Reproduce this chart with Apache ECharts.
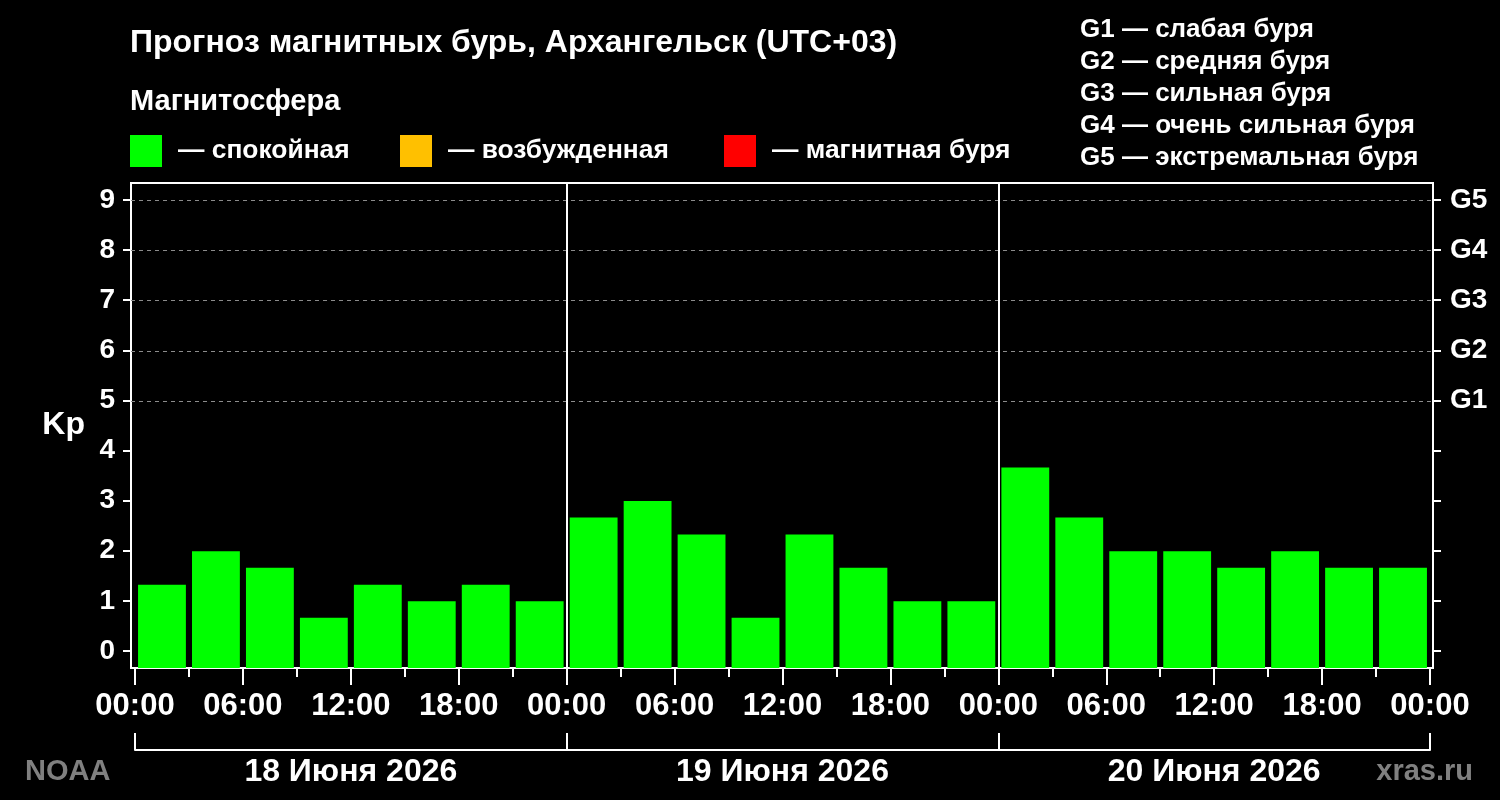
<!DOCTYPE html>
<html lang="ru">

<head>
    <meta charset="UTF-8">
    <title>Прогноз магнитных бурь</title>
    <script src="https://cdn.jsdelivr.net/npm/echarts@6/dist/echarts.min.js"></script>
    <style>
        html, body { margin: 0; padding: 0; background: #000; }
    </style>
</head>

<body>
    <div id="main" style="width: 1500px;height:800px;"></div>
    <script type="text/javascript">
        // часы от начала 18 июня (шаг 3 ч) и прогноз Kp
        var hours = [0, 3, 6, 9, 12, 15, 18, 21, 24, 27, 30, 33, 36, 39, 42, 45, 48, 51, 54, 57, 60, 63, 66, 69];
        var kp = [1.33, 2, 1.67, 0.67, 1.33, 1, 1.33, 1,
            2.67, 3, 2.33, 0.67, 2.33, 1.67, 1, 1,
            3.67, 2.67, 2, 2, 1.67, 2, 1.67, 1.67];
        var days = ['18 Июня 2026', '19 Июня 2026', '20 Июня 2026'];
        var dayStarts = [0, 24, 48, 72];
        var dayCenters = [12, 36, 60];
        var gLevels = ['G1', 'G2', 'G3', 'G4', 'G5'];
        var gText = ['G1 — слабая буря', 'G2 — средняя буря', 'G3 — сильная буря',
            'G4 — очень сильная буря', 'G5 — экстремальная буря'];
        var levels = ['спокойная', 'возбужденная', 'магнитная буря'];
        var levelColors = ['#00ff00', '#ffc000', '#ff0000'];

        var KP_MIN = -1 / 3;
        var FONT = "'Liberation Sans', Arial, sans-serif";

        function levelOf(v) {
            if (v >= 5) return 2;
            if (v >= 4) return 1;
            return 0;
        }

        function renderBar(params, api) {
            var t = api.value(0), v = api.value(1);
            var p0 = api.coord([t + 0.17, v]);
            var p1 = api.coord([t + 2.83, KP_MIN]);
            return {
                type: 'rect',
                shape: { x: p0[0], y: p0[1], width: p1[0] - p0[0], height: p1[1] - p0[1] },
                style: api.style()
            };
        }

        function pad(n) { return (n < 10 ? '0' : '') + n; }

        function txt(size, color) {
            return { color: color || '#fff', fontFamily: FONT, fontWeight: 'bold', fontSize: size };
        }

        var chart = echarts.init(document.getElementById('main'));

        var series = levels.map(function (name, i) {
            var data = [];
            hours.forEach(function (h, j) {
                if (levelOf(kp[j]) === i) data.push([h, kp[j]]);
            });
            return {
                name: name,
                type: 'custom',
                xAxisIndex: 0,
                yAxisIndex: 0,
                renderItem: renderBar,
                itemStyle: { color: levelColors[i] },
                encode: { x: 0, y: 1 },
                data: data
            };
        });

        // пунктир на уровнях G1..G5 и разделители суток
        series[0].markLine = {
            silent: true,
            symbol: 'none',
            label: { show: false },
            animation: false,
            data: [5, 6, 7, 8, 9].map(function (v) {
                return { yAxis: v, lineStyle: { color: '#8c8c8c', type: [4, 4], width: 1 } };
            }).concat([24, 48].map(function (h) {
                return { xAxis: h, lineStyle: { color: '#fff', type: 'solid', width: 2 } };
            }))
        };

        var tickStyle = { color: '#fff', width: 2 };

        var option = {
            backgroundColor: '#000',
            animation: false,
            title: [
                { text: 'Прогноз магнитных бурь, Архангельск (UTC+03)', left: 130, top: 27, padding: 0, textStyle: txt(32) },
                { text: 'Магнитосфера', left: 130, top: 87, padding: 0, textStyle: txt(29) },
                {
                    text: gText.join('\n'), left: 1080, top: 14, padding: 0,
                    textStyle: Object.assign(txt(26), { lineHeight: 32 })
                },
                { text: 'NOAA', left: 25, top: 757, padding: 0, textStyle: txt(29, '#808080') },
                { text: 'xras.ru', right: 27, top: 757, padding: 0, textStyle: txt(29, '#808080') }
            ],
            legend: levels.map(function (name, i) {
                return {
                    data: [name],
                    left: [130, 400, 724][i],
                    top: 135,
                    icon: 'rect',
                    itemWidth: 32,
                    itemHeight: 32,
                    selectedMode: false,
                    padding: 0,
                    formatter: '— {name}',
                    textStyle: Object.assign(txt(26.4), { padding: [0, 0, 0, 11] })
                };
            }),
            grid: [
                { left: 131, right: 67, top: 183, bottom: 132, show: true, borderColor: '#fff', borderWidth: 2, backgroundColor: 'transparent' },
                { left: 131, right: 67, top: 200, bottom: 149 },
                { left: 135, right: 70, top: 183, bottom: 132 },
                { left: 135, right: 70, top: 183, bottom: 50 }
            ],
            xAxis: [
                { gridIndex: 0, type: 'value', min: -0.222, max: 72.167, show: false },
                { gridIndex: 1, type: 'value', min: 0, max: 1, show: false },
                {
                    gridIndex: 2, type: 'value', position: 'bottom', min: 0, max: 72, interval: 6,
                    axisLine: { show: false },
                    axisTick: { show: true, length: 17, lineStyle: tickStyle },
                    minorTick: { show: true, splitNumber: 2, length: 9, lineStyle: tickStyle },
                    splitLine: { show: false },
                    axisLabel: Object.assign(txt(31), { margin: 23, formatter: function (v) { return pad(v % 24) + ':00'; } })
                },
                {
                    gridIndex: 3, type: 'value', position: 'bottom', min: 0, max: 72,
                    axisLine: { show: true, lineStyle: tickStyle },
                    axisTick: { show: true, inside: true, length: 17, customValues: dayStarts, lineStyle: tickStyle },
                    splitLine: { show: false },
                    axisLabel: Object.assign(txt(32), {
                        margin: 6, customValues: dayCenters,
                        formatter: function (v) { return days[dayCenters.indexOf(v)] || ''; }
                    })
                }
            ],
            yAxis: [
                { gridIndex: 0, type: 'value', min: KP_MIN, max: 9.35, show: false },
                {
                    gridIndex: 1, type: 'value', position: 'left', min: 0, max: 9, interval: 1,
                    name: 'Kp', nameLocation: 'middle', nameRotate: 0, nameGap: 46,
                    nameTextStyle: txt(32),
                    axisLine: { show: false },
                    axisTick: { show: true, length: 8, lineStyle: tickStyle },
                    splitLine: { show: false },
                    axisLabel: Object.assign(txt(28), { margin: 16 })
                },
                {
                    gridIndex: 1, type: 'value', position: 'right', min: 0, max: 9, interval: 1,
                    axisLine: { show: false },
                    axisTick: { show: true, length: 8, lineStyle: tickStyle },
                    splitLine: { show: false },
                    axisLabel: Object.assign(txt(28), {
                        margin: 17,
                        formatter: function (v) { return v >= 5 ? gLevels[v - 5] : ''; }
                    })
                },
                { gridIndex: 2, type: 'value', min: 0, max: 1, show: false },
                { gridIndex: 3, type: 'value', min: 0, max: 1, show: false }
            ],
            series: series
        };

        chart.setOption(option);
    </script>
</body>

</html>
